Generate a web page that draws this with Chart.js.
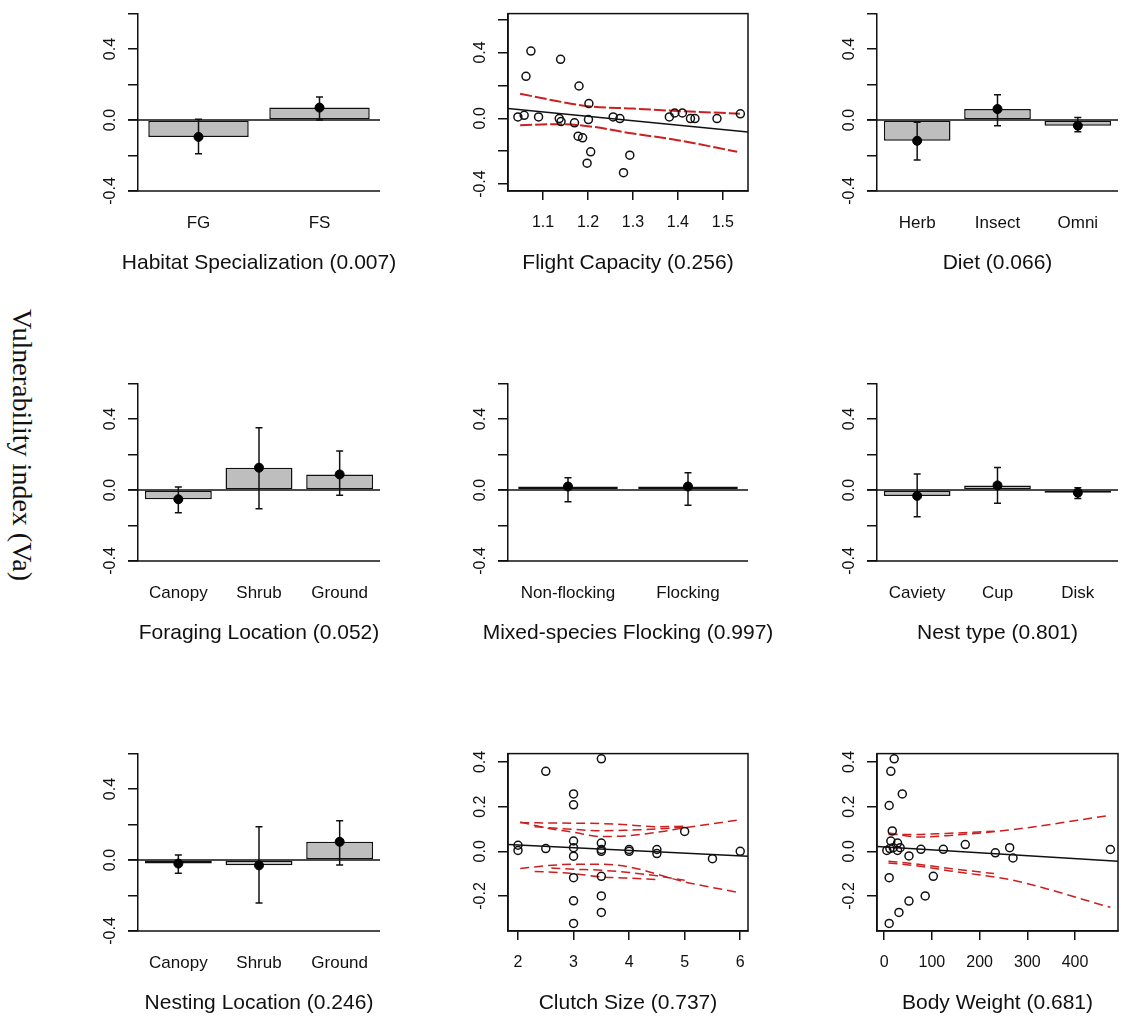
<!DOCTYPE html>
<html lang="en">
<head>
  <meta charset="UTF-8" />
  <title>Vulnerability index by trait</title>
  <script src="https://cdn.jsdelivr.net/npm/chart.js"></script>
  <style>
    html, body { margin: 0; padding: 0; background: #fff; overflow: hidden; }
    #wrap { position: relative; width: 1123px; height: 1021px; overflow: hidden; }
    #wrap canvas { position: absolute; }
    #ylab {
      position: absolute; left: 22px; top: 445px;
      transform: translate(-50%, -50%) rotate(90deg);
      font: 28px "Liberation Serif", "Times New Roman", serif;
      color: #111; white-space: nowrap;
    }
  </style>
</head>
<body>
  <div id="wrap">
    <div id="ylab">Vulnerability index (Va)</div>
  </div>

  <script>
    // ---- bar panels: category, mean, lower / upper error ----
    const habCats = ['FG', 'FS'];
    const habMean = [-0.095, 0.07];
    const habLo   = [-0.19, 0.0];
    const habHi   = [0.005, 0.13];

    const dietCats = ['Herb', 'Insect', 'Omni'];
    const dietMean = [-0.117, 0.062, -0.032];
    const dietLo   = [-0.225, -0.032, -0.066];
    const dietHi   = [-0.013, 0.143, 0.015];

    const forCats = ['Canopy', 'Shrub', 'Ground'];
    const forMean = [-0.052, 0.126, 0.088];
    const forLo   = [-0.128, -0.105, -0.03];
    const forHi   = [0.017, 0.351, 0.22];

    const flockCats = ['Non-flocking', 'Flocking'];
    const flockMean = [0.02, 0.02];
    const flockLo   = [-0.066, -0.086];
    const flockHi   = [0.069, 0.097];

    const nestCats = ['Caviety', 'Cup', 'Disk'];
    const nestMean = [-0.033, 0.026, -0.015];
    const nestLo   = [-0.15, -0.075, -0.048];
    const nestHi   = [0.09, 0.127, 0.013];

    const nlocCats = ['Canopy', 'Shrub', 'Ground'];
    const nlocMean = [-0.02, -0.03, 0.103];
    const nlocLo   = [-0.075, -0.242, -0.028];
    const nlocHi   = [0.028, 0.188, 0.221];

    const barYTicks = [-0.4, -0.2, 0, 0.2, 0.4, 0.6];
    const barYLabels = [-0.4, 0, 0.4];
    const refLineValues = [0, -0.4];

    // ---- Flight capacity ----
    const flightX = [1.044, 1.058, 1.062, 1.073, 1.090, 1.136, 1.139, 1.140, 1.170, 1.180, 1.178, 1.188, 1.202, 1.201,
                     1.206, 1.198, 1.256, 1.271, 1.279, 1.293, 1.381, 1.393, 1.410, 1.428, 1.438, 1.487, 1.539];
    const flightY = [0.008, 0.018, 0.255, 0.408, 0.008, -0.002, 0.358, -0.02, -0.028, 0.196, -0.109, -0.119, 0.089, -0.008,
                     -0.204, -0.273, 0.008, -0.002, -0.331, -0.224, 0.008, 0.032, 0.032, -0.002, -0.002, -0.002, 0.027];
    const flightFitX = [1.022, 1.556];
    const flightFitY = [0.059, -0.083];
    const flightUpX = [1.049, 1.13, 1.2, 1.3, 1.4, 1.538];
    const flightUpY = [0.149, 0.105, 0.073, 0.059, 0.044, 0.028];
    const flightLowX = [1.049, 1.13, 1.2, 1.3, 1.4, 1.532];
    const flightLowY = [-0.042, -0.036, -0.048, -0.093, -0.133, -0.204];
    const flightXTicks = [1.1, 1.2, 1.3, 1.4, 1.5];

    // ---- Clutch size ----
    const clutchX = [2, 2, 2.5, 2.5, 3, 3, 3, 3, 3, 3, 3, 3, 3.5, 3.5, 3.5, 3.5, 3.5, 3.5, 3.5, 4, 4, 4.5, 4.5, 5, 5.5, 6];
    const clutchY = [0.027, 0.004, 0.358, 0.012, 0.257, 0.208, 0.046, 0.016, -0.022, -0.118, -0.222, -0.323,
                     0.414, 0.037, 0.008, 0.0, -0.112, -0.2, -0.274, 0.008, 0.0, 0.008, -0.01, 0.089, -0.033, 0.0];
    const clutchFitX = [1.82, 6.14];
    const clutchFitY = [0.03, -0.022];
    const clutchUp1X = [2.04, 2.5, 3, 3.5, 4, 4.5, 5, 6];
    const clutchUp1Y = [0.131, 0.105, 0.085, 0.066, 0.07, 0.085, 0.105, 0.141];
    const clutchUp2X = [2.04, 2.5, 3, 3.5, 4, 4.5, 5];
    const clutchUp2Y = [0.128, 0.127, 0.126, 0.124, 0.118, 0.11, 0.112];
    const clutchUp3X = [2.3, 3, 3.5, 4, 4.5, 5];
    const clutchUp3Y = [0.11, 0.098, 0.092, 0.095, 0.1, 0.108];
    const clutchLow1X = [2.04, 2.5, 3, 3.5, 4, 5, 6];
    const clutchLow1Y = [-0.077, -0.065, -0.058, -0.058, -0.07, -0.137, -0.186];
    const clutchLow2X = [2.3, 3, 3.5, 4, 4.5];
    const clutchLow2Y = [-0.09, -0.1, -0.115, -0.12, -0.127];
    const clutchLow3X = [2.6, 3, 3.5, 4, 4.5, 5];
    const clutchLow3Y = [-0.075, -0.08, -0.085, -0.095, -0.11, -0.13];
    const clutchXTicks = [2, 3, 4, 5, 6];

    // ---- Body weight ----
    const bodyX = [21, 14, 38, 10.5, 17, 14, 28, 5.6, 12, 19, 28, 33.5, 52, 77, 124, 170, 233, 263, 270, 474,
                   10.5, 103, 86, 52, 31, 10.5];
    const bodyY = [0.414, 0.358, 0.257, 0.205, 0.091, 0.046, 0.037, 0.004, 0.012, 0.016, 0.004, 0.016, -0.021, 0.009,
                   0.009, 0.03, -0.007, 0.016, -0.03, 0.008, -0.118, -0.112, -0.2, -0.223, -0.274, -0.323];
    const bodyFitX = [-15, 490];
    const bodyFitY = [0.022, -0.045];
    const bodyUp1X = [9, 75, 138, 268, 474];
    const bodyUp1Y = [0.082, 0.064, 0.071, 0.097, 0.161];
    const bodyUp2X = [9, 60, 130, 230];
    const bodyUp2Y = [0.075, 0.075, 0.08, 0.09];
    const bodyLow1X = [9, 75, 138, 268, 474];
    const bodyLow1Y = [-0.052, -0.067, -0.088, -0.129, -0.251];
    const bodyLow2X = [9, 60, 130, 230];
    const bodyLow2Y = [-0.045, -0.055, -0.075, -0.1];
    const bodyXTicks = [0, 100, 200, 300, 400];

    const sizeYTicks = [-0.2, 0, 0.2, 0.4];

    // ---- layout ----
    const INK = '#111';
    const RED = '#cc1f1f';
    // canvases are symmetric round the plot box so the bottom title centres under it
    const cols = [
      { left: 40, width: 438, axisW: 98 },
      { left: 420, width: 416, axisW: 88 },
      { left: 790, width: 415, axisW: 87 }
    ];
    const rowTops = [0, 370, 740];
    const PANEL_H = 290;
    const TITLE_PAD = 14;
    const TITLE_SIZE = 21;
    const X_AXIS_H = PANEL_H - 191 - (TITLE_SIZE * 1.2 + TITLE_PAD);

    Chart.defaults.font.family = '"Liberation Sans", Arial, sans-serif';
    Chart.defaults.color = INK;

    function makeCanvas(row, col) {
      const c = document.createElement('canvas');
      c.width = cols[col].width;
      c.height = PANEL_H;
      c.style.left = cols[col].left + 'px';
      c.style.top = rowTops[row] + 'px';
      document.getElementById('wrap').appendChild(c);
      return c;
    }

    const pts = (xs, ys) => xs.map((x, i) => ({ x: x, y: ys[i] }));

    function yAxis(col, min, max, ticks, labelled) {
      return {
        min: min, max: max,
        afterFit: s => { s.width = cols[col].axisW; },
        afterBuildTicks: s => { s.ticks = ticks.map(v => ({ value: v })); },
        grid: { drawOnChartArea: false, drawTicks: true, tickLength: 10, color: INK, lineWidth: 1.5 },
        border: { display: true, color: INK, width: 1.5 },
        ticks: {
          autoSkip: false, minRotation: 90, maxRotation: 90, crossAlign: 'center', padding: 4,
          color: INK, font: { size: 16 },
          callback: v => labelled.includes(v) ? v.toFixed(1) : ''
        }
      };
    }

    // empty right-hand spacer, same width as the left axis
    function spacer(col) {
      return {
        position: 'right', display: true,
        afterFit: s => { s.width = cols[col].axisW; },
        grid: { display: false, drawTicks: false },
        border: { display: false },
        ticks: { display: false }
      };
    }

    function baseOptions(col, title, scales) {
      return {
        responsive: false,
        animation: false,
        events: [],
        layout: { padding: { top: 13, right: 0, left: 0, bottom: 0 } },
        plugins: {
          legend: { display: false },
          tooltip: { enabled: false },
          title: {
            display: true, text: title, position: 'bottom', color: INK,
            font: { size: TITLE_SIZE, weight: 'normal' }, padding: { top: 0, bottom: TITLE_PAD }
          }
        },
        scales: scales
      };
    }

    // lines at 0 and at the bottom of the bar panels
    const refLines = {
      id: 'refLines',
      beforeDatasetsDraw(chart) {
        const { ctx, chartArea: a, scales: { y } } = chart;
        ctx.save();
        ctx.strokeStyle = INK;
        ctx.lineWidth = 1.5;
        refLineValues.forEach(v => {
          const py = y.getPixelForValue(v);
          ctx.beginPath();
          ctx.moveTo(a.left - 10, py);
          ctx.lineTo(a.right, py);
          ctx.stroke();
        });
        ctx.restore();
      }
    };

    const boxPlot = {
      id: 'boxPlot',
      afterDraw(chart) {
        const { ctx, chartArea: a } = chart;
        ctx.save();
        ctx.strokeStyle = INK;
        ctx.lineWidth = 1.5;
        ctx.strokeRect(a.left, a.top, a.right - a.left, a.bottom - a.top);
        ctx.restore();
      }
    };

    function barPanel(row, col, cats, means, lo, hi, title) {
      const datasets = [
        { type: 'line', data: means, showLine: false, pointRadius: 4.5,
          pointBackgroundColor: '#000', pointBorderColor: '#000', order: 0 }
      ];
      cats.forEach((c, i) => {
        datasets.push({
          type: 'line', data: [{ x: c, y: lo[i] }, { x: c, y: hi[i] }],
          borderColor: INK, borderWidth: 1.5, pointStyle: 'line', pointRadius: 3.5,
          pointBorderWidth: 1.5, pointBorderColor: INK, order: 1
        });
      });
      datasets.push({
        type: 'bar', data: means, backgroundColor: '#bebebe', borderColor: INK, borderWidth: 1.5,
        borderSkipped: false, barPercentage: 0.83, categoryPercentage: 1, order: 2
      });

      new Chart(makeCanvas(row, col), {
        type: 'bar',
        data: { labels: cats, datasets: datasets },
        options: baseOptions(col, title, {
          x: {
            type: 'category', offset: true,
            afterFit: s => { s.height = X_AXIS_H; },
            grid: { display: false, drawTicks: false },
            border: { display: false },
            ticks: { color: INK, font: { size: 17 }, padding: 22, autoSkip: false, maxRotation: 0 }
          },
          y: yAxis(col, -0.4, 0.6, barYTicks, barYLabels),
          y2: spacer(col)
        }),
        plugins: [refLines]
      });
    }

    function scatterPanel(row, col, p) {
      const datasets = [
        { data: pts(p.x, p.y), showLine: false, pointRadius: 4, pointBorderWidth: 1.5,
          pointBorderColor: INK, pointBackgroundColor: 'rgba(0,0,0,0)' },
        { data: pts(p.fitX, p.fitY), showLine: true, borderColor: INK, borderWidth: 1.5, pointRadius: 0 }
      ];
      p.ci.forEach(c => {
        datasets.push({
          data: pts(c[0], c[1]), showLine: true, borderColor: RED, borderWidth: p.ciWidth,
          borderDash: p.dash, pointRadius: 0, cubicInterpolationMode: 'monotone'
        });
      });

      new Chart(makeCanvas(row, col), {
        type: 'scatter',
        data: { datasets: datasets },
        options: baseOptions(col, p.title, {
          x: {
            type: 'linear', min: p.xMin, max: p.xMax,
            afterFit: s => { s.height = X_AXIS_H; },
            afterBuildTicks: s => { s.ticks = p.xTicks.map(v => ({ value: v })); },
            grid: { drawOnChartArea: false, drawTicks: true, tickLength: 9, color: INK, lineWidth: 1.5 },
            border: { display: true, color: INK, width: 1.5 },
            ticks: { autoSkip: false, maxRotation: 0, padding: 13, color: INK, font: { size: 16 },
                     callback: v => v.toFixed(p.digits) }
          },
          y: yAxis(col, p.yMin, p.yMax, p.yTicks, p.yLabels),
          y2: spacer(col)
        }),
        plugins: [boxPlot]
      });
    }

    barPanel(0, 0, habCats, habMean, habLo, habHi, 'Habitat Specialization (0.007)');
    scatterPanel(0, 1, {
      x: flightX, y: flightY, fitX: flightFitX, fitY: flightFitY,
      ci: [[flightUpX, flightUpY], [flightLowX, flightLowY]], ciWidth: 2, dash: [12, 3],
      xMin: 1.022, xMax: 1.556, xTicks: flightXTicks, digits: 1,
      yMin: -0.442, yMax: 0.636, yTicks: barYTicks, yLabels: barYLabels,
      title: 'Flight Capacity (0.256)'
    });
    barPanel(0, 2, dietCats, dietMean, dietLo, dietHi, 'Diet (0.066)');

    barPanel(1, 0, forCats, forMean, forLo, forHi, 'Foraging Location (0.052)');
    barPanel(1, 1, flockCats, flockMean, flockLo, flockHi, 'Mixed-species Flocking (0.997)');
    barPanel(1, 2, nestCats, nestMean, nestLo, nestHi, 'Nest type (0.801)');

    barPanel(2, 0, nlocCats, nlocMean, nlocLo, nlocHi, 'Nesting Location (0.246)');
    scatterPanel(2, 1, {
      x: clutchX, y: clutchY, fitX: clutchFitX, fitY: clutchFitY,
      ci: [[clutchUp1X, clutchUp1Y], [clutchUp2X, clutchUp2Y], [clutchUp3X, clutchUp3Y],
           [clutchLow1X, clutchLow1Y], [clutchLow2X, clutchLow2Y], [clutchLow3X, clutchLow3Y]],
      ciWidth: 1.5, dash: [9, 5],
      xMin: 1.82, xMax: 6.14, xTicks: clutchXTicks, digits: 0,
      yMin: -0.357, yMax: 0.4375, yTicks: sizeYTicks, yLabels: sizeYTicks,
      title: 'Clutch Size (0.737)'
    });
    scatterPanel(2, 2, {
      x: bodyX, y: bodyY, fitX: bodyFitX, fitY: bodyFitY,
      ci: [[bodyUp1X, bodyUp1Y], [bodyUp2X, bodyUp2Y], [bodyLow1X, bodyLow1Y], [bodyLow2X, bodyLow2Y]],
      ciWidth: 1.5, dash: [9, 5],
      xMin: -15, xMax: 490, xTicks: bodyXTicks, digits: 0,
      yMin: -0.357, yMax: 0.4375, yTicks: sizeYTicks, yLabels: sizeYTicks,
      title: 'Body Weight (0.681)'
    });
  </script>
</body>
</html>
